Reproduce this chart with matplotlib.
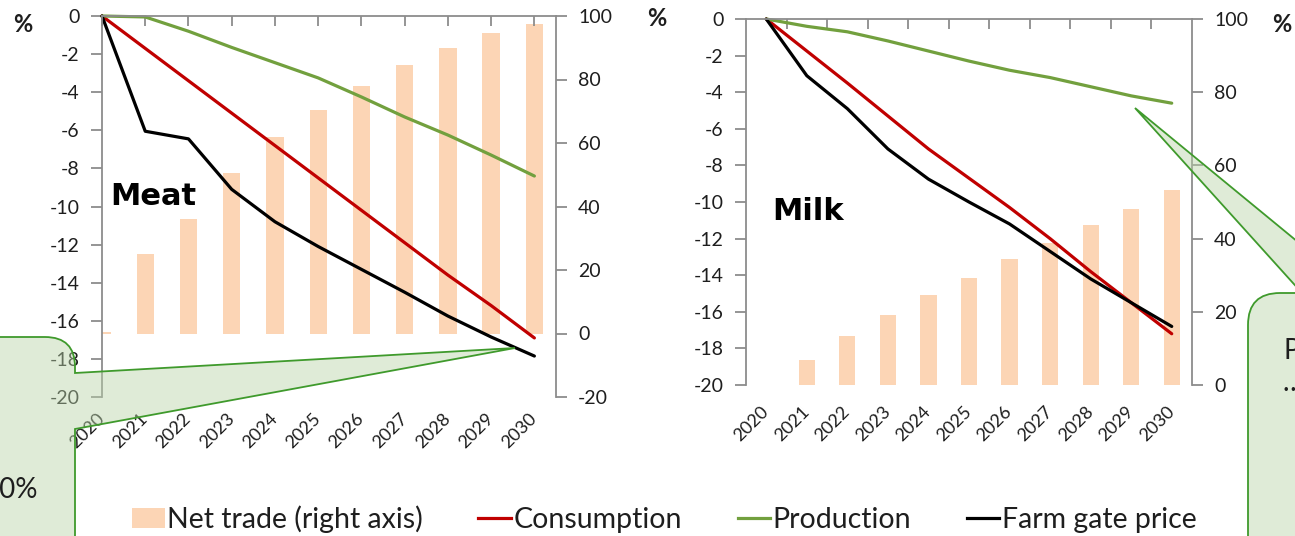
import numpy as np
import matplotlib.pyplot as plt
from matplotlib.patches import PathPatch, Patch
from matplotlib.path import Path
from matplotlib.lines import Line2D

plt.rcParams['font.family'] = ['Lato', 'DejaVu Sans']
plt.rcParams['axes.unicode_minus'] = False

years = [str(y) for y in range(2020, 2031)]

# meat: % change vs 2020 (left axis), net trade on the right axis
meat_trade = [0.5, 25, 36, 50.5, 62, 70.5, 78, 84.5, 90, 94.5, 97.5]
meat_consumption = [0, -1.7, -3.4, -5.1, -6.8, -8.5, -10.2, -11.9, -13.6, -15.2, -16.9]
meat_production = [0, -0.05, -0.8, -1.65, -2.45, -3.25, -4.25, -5.3, -6.25, -7.3, -8.4]
meat_price = [0, -6.05, -6.45, -9.1, -10.8, -12.1, -13.3, -14.5, -15.75, -16.85, -17.85]

# milk
milk_trade = [0, 6.9, 13.5, 19.0, 24.5, 29.2, 34.4, 38.8, 43.8, 48.2, 53.2]
milk_consumption = [0, -1.75, -3.5, -5.3, -7.1, -8.7, -10.3, -12.0, -13.8, -15.5, -17.2]
milk_production = [0, -0.4, -0.7, -1.2, -1.75, -2.3, -2.8, -3.2, -3.7, -4.2, -4.6]
milk_price = [0, -3.1, -4.9, -7.1, -8.75, -10.0, -11.2, -12.7, -14.2, -15.5, -16.8]

W, H = 1295, 536
BAR = '#fcd5b5'
RED = '#c00000'
GREEN = '#72a03e'
GRID = '#8c8c8c'
TXT = '#1e1e1e'


def px(x, y):
    return (x / W, 1 - y / H)


def panel(rect, trade, cons, prod, price, xlim, rlim, rticks, centre_ticks):
    ax = fig.add_axes(rect)
    ax2 = ax.twinx()
    ax.set_zorder(2)
    ax2.set_zorder(1)
    ax.patch.set_visible(False)

    x = np.arange(len(years))
    ax2.bar(x, trade, width=0.4, color=BAR)
    ax.plot(x, cons, color=RED, lw=2.3, solid_capstyle='round', clip_on=False)
    ax.plot(x, prod, color=GREEN, lw=2.3, solid_capstyle='round', clip_on=False)
    ax.plot(x, price, color='black', lw=2.3, solid_capstyle='round', clip_on=False)

    ax.set_xlim(*xlim)
    ax.set_ylim(-20, 0)
    ax.set_yticks(range(-20, 1, 2))
    ax2.set_ylim(*rlim)
    ax2.set_yticks(rticks)

    for a in (ax, ax2):
        for s in a.spines.values():
            s.set_visible(False)
            s.set_color(GRID)
            s.set_linewidth(1.3)
    ax.spines['top'].set_visible(True)
    ax.spines['left'].set_visible(True)
    ax2.spines['right'].set_visible(True)

    ax.tick_params(axis='y', length=8, width=1.3, color=GRID, labelsize=14,
                   labelcolor=TXT, pad=8)
    ax2.tick_params(axis='y', length=8, width=1.3, color=GRID, labelsize=14,
                    labelcolor=TXT, pad=8)

    ax.set_xticks(x)
    ax.set_xticklabels(years, rotation=45, ha='right', rotation_mode='anchor',
                       va='center', fontsize=13, color=TXT)
    if centre_ticks:
        ax.tick_params(axis='x', which='major', top=True, bottom=False,
                       direction='in', length=7, width=1.3, color=GRID, pad=14)
    else:
        ax.set_xticks(np.arange(0.5, len(years) - 1), minor=True)
        ax.tick_params(axis='x', which='major', top=False, bottom=False, pad=14)
        ax.tick_params(axis='x', which='minor', top=True, bottom=False,
                       direction='in', length=7, width=1.3, color=GRID)
    return ax


def rounded_box(verts_codes, **kw):
    verts, codes = zip(*verts_codes)
    path = Path([px(*v) for v in verts], codes)
    patch = PathPatch(path, transform=fig.transFigure, zorder=10, **kw)
    fig.add_artist(patch)


fig = plt.figure(figsize=(W / 100, H / 100), dpi=100)

panel([102 / W, 1 - 397 / H, 454 / W, 381 / H],
      meat_trade, meat_consumption, meat_production, meat_price,
      (0, 10.5), (-20, 100), range(-20, 101, 20), True)
panel([746 / W, 1 - 385 / H, 446 / W, 366 / H],
      milk_trade, milk_consumption, milk_production, milk_price,
      (-0.5, 10.5), (0, 100), range(0, 101, 20), False)

fig.text(*px(110, 196), 'Meat', fontsize=22, fontweight='bold',
         family='DejaVu Sans', va='center', ha='left', color='black')
fig.text(*px(772, 211), 'Milk', fontsize=22, fontweight='bold',
         family='DejaVu Sans', va='center', ha='left', color='black')

for xx, yy in [(23, 25), (657, 18), (1282, 25)]:
    fig.text(*px(xx, yy), '%', fontsize=17, fontweight='bold', color=TXT,
             ha='center', va='center')

# callouts
box_kw = dict(facecolor='#b9d4a8', alpha=0.45, edgecolor='none')
edge_kw = dict(facecolor='none', edgecolor='#3f9a2c', linewidth=1.3)
left_shape = [
    ((-10, 337), Path.MOVETO), ((45, 337), Path.LINETO),
    ((75, 337), Path.CURVE3), ((75, 367), Path.CURVE3),
    ((75, 373), Path.LINETO), ((515, 348), Path.LINETO),
    ((75, 429), Path.LINETO), ((75, 560), Path.LINETO),
    ((-10, 560), Path.LINETO), ((-10, 337), Path.CLOSEPOLY),
]
right_shape = [
    ((1340, 600), Path.MOVETO), ((1248, 600), Path.LINETO),
    ((1248, 325), Path.LINETO), ((1248, 293), Path.CURVE3),
    ((1280, 293), Path.CURVE3), ((1302, 293), Path.LINETO),
    ((1135, 108), Path.LINETO), ((1360, 293), Path.LINETO),
    ((1400, 293), Path.LINETO), ((1340, 600), Path.CLOSEPOLY),
]
for shape in (left_shape, right_shape):
    rounded_box(shape, **box_kw)
    rounded_box(shape, **edge_kw)

fig.text(*px(38, 490), '10%', fontsize=20, color=TXT, ha='right', va='center',
         zorder=11)
fig.text(*px(1283, 338), 'Production\n…', fontsize=20, color=TXT, ha='left',
         va='top', zorder=11, linespacing=1.3)

handles = [Patch(facecolor=BAR, edgecolor='none'),
           Line2D([], [], color=RED, lw=2.3),
           Line2D([], [], color=GREEN, lw=2.3),
           Line2D([], [], color='black', lw=2.3)]
labels = ['Net trade (right axis)', 'Consumption', 'Production', 'Farm gate price']
fig.legend(handles, labels, loc='center', bbox_to_anchor=(0.513, 0.032), ncol=4,
           frameon=False, fontsize=20.5, handlelength=1.15, handletextpad=0.08,
           columnspacing=1.95, labelcolor=TXT, borderpad=0, borderaxespad=0)

fig.savefig('out.png', dpi=100)
